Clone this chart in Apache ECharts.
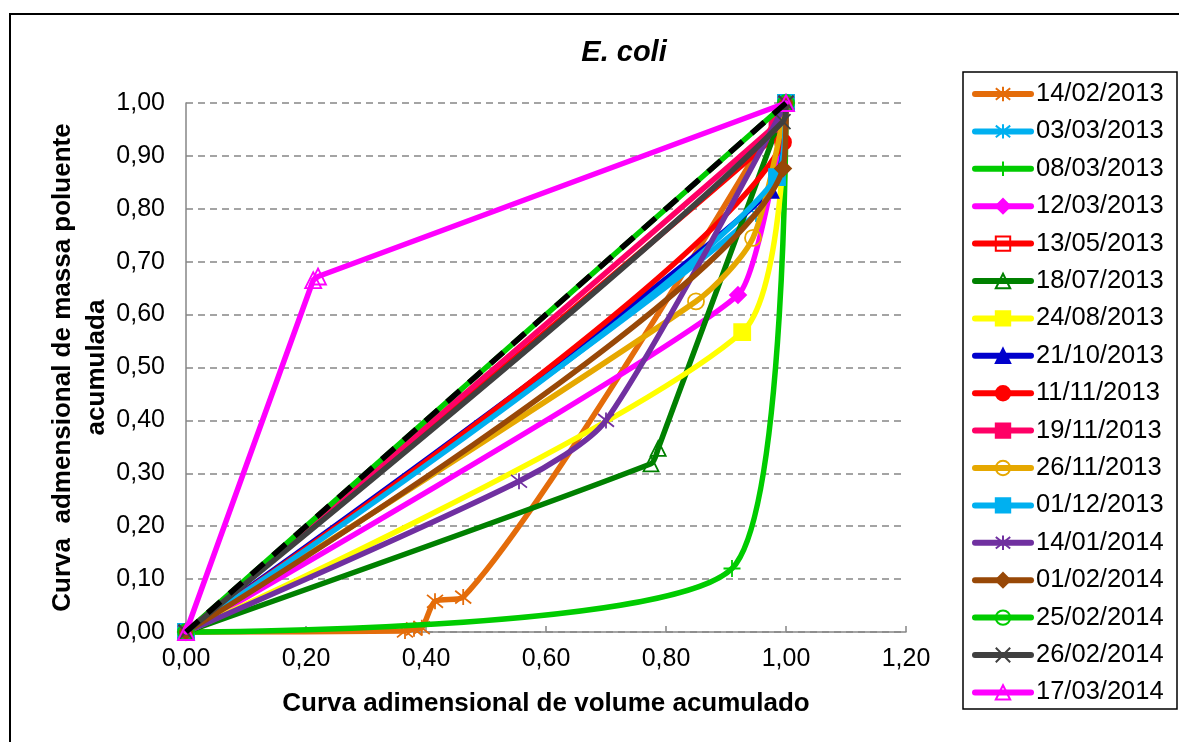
<!DOCTYPE html>
<html>
<head>
<meta charset="utf-8">
<title>E. coli</title>
<script src="https://cdn.jsdelivr.net/npm/echarts@6/dist/echarts.min.js"></script>
<style>
  html, body { margin: 0; padding: 0; background: #fff; }
  #chart { width: 1179px; height: 742px; }
</style>
</head>
<body>
<div id="chart"></div>
<script>
// Event dates (legend order)
const eventDates = [
  '14/02/2013', '03/03/2013', '08/03/2013', '12/03/2013', '13/05/2013', '18/07/2013',
  '24/08/2013', '21/10/2013', '11/11/2013', '19/11/2013', '26/11/2013', '01/12/2013',
  '14/01/2014', '01/02/2014', '25/02/2014', '26/02/2014', '17/03/2014'
];

// Cumulative dimensionless volume vs cumulative dimensionless pollutant mass, [x, y]
const ev_14_02_2013 = [[0, 0], [0.365, 0.002], [0.38, 0.006], [0.393, 0.008], [0.415, 0.058], [0.462, 0.066], [1, 1]];
const ev_03_03_2013 = [[0, 0], [0.95, 0.79], [1, 1]];
const ev_08_03_2013 = [[0, 0], [0.91, 0.12], [1, 1]];
const ev_12_03_2013 = [[0, 0], [0.92, 0.637], [1, 1]];
const ev_13_05_2013 = [[0, 0], [0.99, 0.945], [1, 1]];
const ev_18_07_2013 = [[0, 0], [0.775, 0.318], [0.787, 0.347], [1, 1]];
const ev_24_08_2013 = [[0, 0], [0.927, 0.567], [1, 1]];
const ev_21_10_2013 = [[0, 0], [0.975, 0.835], [1, 1]];
const ev_11_11_2013 = [[0, 0], [0.995, 0.926], [1, 1]];
const ev_19_11_2013 = [[0, 0], [0.985, 0.96], [1, 1]];
const ev_26_11_2013 = [[0, 0], [0.85, 0.625], [0.945, 0.745], [1, 1]];
const ev_01_12_2013 = [[0, 0], [0.985, 0.86], [1, 1]];
const ev_14_01_2014 = [[0, 0], [0.555, 0.285], [0.70, 0.40], [1, 1]];
const ev_01_02_2014 = [[0, 0], [0.995, 0.876], [1, 1]];
const ev_25_02_2014 = [[0, 0], [1, 1]];
const ev_26_02_2014 = [[0, 0], [0.995, 0.965], [1, 1]];
const ev_17_03_2014 = [[0, 0], [0.212, 0.665], [0.22, 0.672], [1, 1]];
const unitLine = [[0, 0], [1, 1]];

const eventData = [
  ev_14_02_2013, ev_03_03_2013, ev_08_03_2013, ev_12_03_2013, ev_13_05_2013, ev_18_07_2013,
  ev_24_08_2013, ev_21_10_2013, ev_11_11_2013, ev_19_11_2013, ev_26_11_2013, ev_01_12_2013,
  ev_14_01_2014, ev_01_02_2014, ev_25_02_2014, ev_26_02_2014, ev_17_03_2014
];

// Marker glyphs
const ASTERISK = 'path://M0,-10L0,10M-8,-8L8,8M-8,8L8,-8';
const PLUS = 'path://M0,-10L0,10M-10,0L10,0';
const CROSS = 'path://M-8,-8L8,8M-8,8L8,-8';
const NOFILL = 'rgba(255,255,255,0)';

// Line colour, marker shape, marker fill, marker size, smoothing
const styles = [
  { c: '#E46C0A', sym: ASTERISK, fill: NOFILL, size: 16, smooth: 0.25 },
  { c: '#00B0F0', sym: ASTERISK, fill: NOFILL, size: 16, smooth: 0.25 },
  { c: '#00CC00', sym: PLUS, fill: NOFILL, size: 17, smooth: 0.25 },
  { c: '#FF00FF', sym: 'diamond', fill: '#FF00FF', size: 16, smooth: 0.15 },
  { c: '#FF0000', sym: 'rect', fill: NOFILL, size: 14, smooth: 0.25 },
  { c: '#008000', sym: 'triangle', fill: NOFILL, size: 15, smooth: 0.25 },
  { c: '#FFFF00', sym: 'rect', fill: '#FFFF00', size: 16, smooth: 0.25 },
  { c: '#0000CC', sym: 'triangle', fill: '#0000CC', size: 15, smooth: 0.25 },
  { c: '#FF0000', sym: 'circle', fill: '#FF0000', size: 16, smooth: 0.25 },
  { c: '#FF0066', sym: 'rect', fill: '#FF0066', size: 15, smooth: 0.25 },
  { c: '#E6A800', sym: 'circle', fill: NOFILL, size: 16, smooth: 0.25 },
  { c: '#00B0F0', sym: 'rect', fill: '#00B0F0', size: 16, smooth: 0.25 },
  { c: '#7030A0', sym: ASTERISK, fill: NOFILL, size: 16, smooth: 0.25 },
  { c: '#984807', sym: 'diamond', fill: '#984807', size: 16, smooth: 0.25 },
  { c: '#00CC00', sym: 'circle', fill: NOFILL, size: 16, smooth: 0.25 },
  { c: '#404040', sym: CROSS, fill: NOFILL, size: 15, smooth: 0.25 },
  { c: '#FF00FF', sym: 'triangle', fill: NOFILL, size: 16, smooth: 0 }
];

const FONT = "'Liberation Sans', Arial, sans-serif";
const fmt = v => v.toFixed(2).replace('.', ',');

const series = eventDates.map((name, i) => {
  const s = styles[i];
  return {
    name: name,
    type: 'line',
    data: eventData[i],
    color: s.c,
    smooth: s.smooth,
    clip: false,
    symbol: s.sym,
    symbolSize: s.size,
    showAllSymbol: true,
    lineStyle: { color: s.c, width: 5.5, cap: 'round', join: 'round' },
    itemStyle: { color: s.fill, borderColor: s.c, borderWidth: 1.8 },
    emphasis: { disabled: true },
    z: 2 + i * 0.01
  };
});

// 1:1 reference line
series.splice(16, 0, {
  name: 'unit',
  type: 'line',
  data: unitLine,
  clip: false,
  symbol: 'none',
  lineStyle: { color: '#000', width: 5.5, type: [17, 12] },
  emphasis: { disabled: true },
  z: 2.165
});

const chart = echarts.init(document.getElementById('chart'), null, { renderer: 'canvas' });
chart.setOption({
  animation: false,
  backgroundColor: '#fff',
  title: {
    text: 'E. coli',
    left: 619,
    top: 33,
    textAlign: 'center',
    textStyle: { fontFamily: FONT, fontSize: 29, fontWeight: 'bold', fontStyle: 'italic', color: '#000' }
  },
  grid: { left: 186, right: 273, top: 103, bottom: 110, containLabel: false },
  xAxis: {
    type: 'value',
    min: 0, max: 1.2, interval: 0.2,
    name: 'Curva adimensional de volume acumulado',
    nameLocation: 'middle',
    nameGap: 59,
    nameMoveOverlap: false,
    nameTextStyle: { fontFamily: FONT, fontSize: 26, fontWeight: 'bold', color: '#000' },
    axisLine: { show: true, onZero: false, lineStyle: { color: '#868686', width: 1.5 } },
    axisTick: { show: true, inside: true, length: 6, lineStyle: { color: '#868686', width: 1.5 } },
    axisLabel: { formatter: fmt, fontFamily: FONT, fontSize: 25, color: '#000', margin: 15 },
    splitLine: { show: false }
  },
  yAxis: {
    type: 'value',
    min: 0, max: 1, interval: 0.1,
    name: 'Curva  admensional de massa poluente\nacumulada',
    nameLocation: 'middle',
    nameGap: 72,
    nameMoveOverlap: false,
    nameTextStyle: { fontFamily: FONT, fontSize: 26, fontWeight: 'bold', color: '#000', lineHeight: 34 },
    axisLine: { show: true, onZero: false, lineStyle: { color: '#868686', width: 1.5 } },
    axisTick: { show: false },
    axisLabel: { formatter: fmt, fontFamily: FONT, fontSize: 25, color: '#000', margin: 21 },
    splitLine: { show: true, lineStyle: { color: '#868686', width: 1.5, type: [7, 5] } }
  },
  legend: {
    data: eventDates,
    orient: 'vertical',
    left: 967,
    top: 76,
    itemWidth: 56,
    itemHeight: 18,
    itemGap: 11.4,
    lineStyle: { width: 6, cap: 'round' },
    textStyle: { fontFamily: FONT, fontSize: 25.5, color: '#000', lineHeight: 26 },
    selectedMode: false
  },
  graphic: [
    { type: 'rect', shape: { x: 10, y: 14, width: 1180, height: 740 }, style: { fill: 'none', stroke: '#000', lineWidth: 2 }, silent: true, z: 0 },
    { type: 'rect', shape: { x: 963, y: 72, width: 214, height: 637 }, style: { fill: 'none', stroke: '#000', lineWidth: 1.5 }, silent: true, z: 0 }
  ],
  series: series
});
</script>
</body>
</html>
